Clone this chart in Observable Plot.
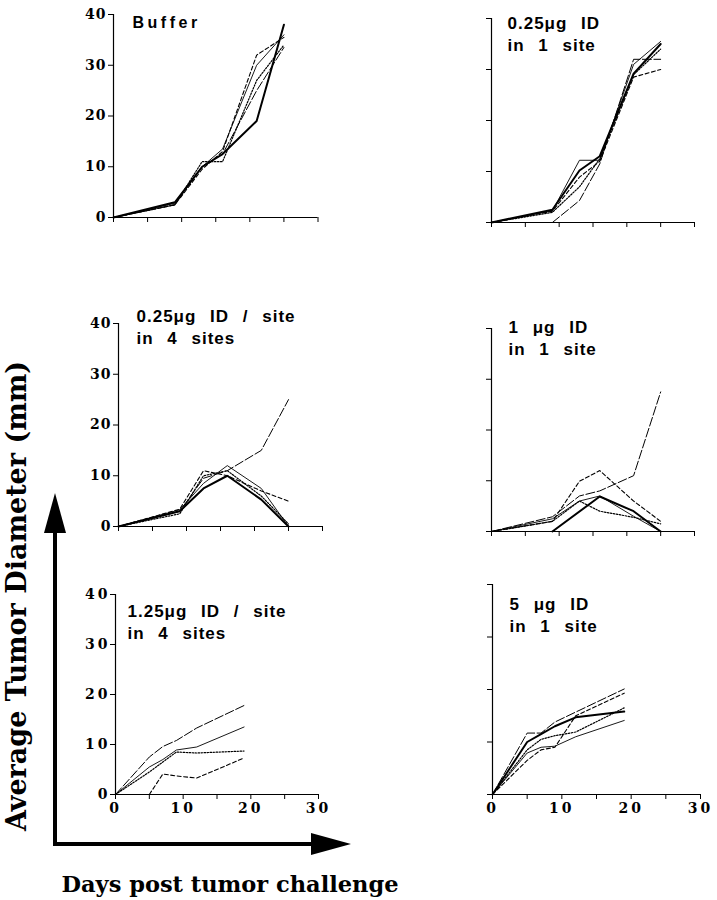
<!DOCTYPE html>
<html><head><meta charset="utf-8">
<script src="https://cdn.jsdelivr.net/npm/d3@7"></script>
<script src="https://cdn.jsdelivr.net/npm/@observablehq/plot@0.6"></script>
<style>
body{margin:0;background:#fff;}
#chart{position:relative;width:717px;height:900px;overflow:hidden;background:#fff;}
#chart svg{position:absolute;}
</style></head><body><div id="chart"></div>
<script>
// ---- data ----
const seriesIds = ["m1", "m2", "m3", "m4", "m5"];
const xTicks = [0, 5, 10, 15, 20, 25, 30];
const yTicks = [0, 10, 20, 30, 40];

const titleBuffer = "Buffer";
const title025x1 = "0.25μg ID\nin 1 site";
const title025x4 = "0.25μg ID / site\nin 4 sites";
const title1x1 = "1 μg ID\nin 1 site";
const title125x4 = "1.25μg ID / site\nin 4 sites";
const title5x1 = "5 μg ID\nin 1 site";

const daysBuffer = [0, 9, 13, 16, 21, 25];
const valuesBuffer = [
  [0, 3, 10, 12.5, 19, 38],
  [0, 2.8, 10, 13.5, 30, 36],
  [0, 2.5, 9.5, 13, 32, 35.5],
  [0, 2.5, 10, 12.5, 25, 33.5],
  [0, 2.5, 11, 11, 27, 34]
];

const days025x1 = [0, 9, 13, 16, 21, 25];
const values025x1 = [
  [0, 2.5, 10.2, 13, 29.2, 35],
  [0, 2.3, 12.2, 12.2, 31, 35.5],
  [0, 2.2, 8.9, 12, 28.5, 30],
  [null, 0, 4.3, 11.5, 32, 32],
  [0, 2, 7, 12.5, 29, 34]
];

const days025x4 = [0, 9, 12.5, 16, 21, 25];
const values025x4 = [
  [0, 3, 7.5, 10, 5.3, 0],
  [0, 3.3, 8.5, 12, 7.5, 0],
  [0, 3.4, 11, 10, 7, 5],
  [0, 3, 9.5, 11, 15, 25],
  [0, 2.5, 10, 11, 6, 0.5]
];

const days1x1 = [0, 9, 13, 16, 21, 25];
const values1x1 = [
  [null, 0, null, 6.9, 4, 0],
  [0, 2.5, 6, 7, 3, 0],
  [0, 2, 9.9, 12, 6, 2],
  [0, 2.9, 7, 8, 11, 27.5],
  [0, 2, 6, 4, 2.8, 1.5]
];

const days125x4 = [0, 5, 7, 9, 12, 19];
const values125x4 = [
  [null, null, null, null, null, null],
  [0, 5.5, 7, 8.9, 9.5, 13.5],
  [null, 0, 4.1, 3.7, 3.3, 7.3],
  [0, 7.5, 9.6, 10.8, 13.3, 17.8],
  [0, 4.5, 6.5, 8.5, 8.3, 8.7]
];

const days5x1 = [0, 5, 7, 9, 12, 19];
const values5x1 = [
  [0, 10, 11.5, 13, 14.7, 15.8],
  [0, 7.9, 9, 9.2, 11, 14.1],
  [0, 6.5, 8.5, 9, 15, 19.3],
  [0, 11.7, 11.7, 13.8, 15.7, 20.1],
  [0, 8.5, 10.5, 11.2, 11.9, 16.5]
];

const yAxisTitle = "Average Tumor Diameter (mm)";
const xAxisTitle = "Days post tumor challenge";

// ---- styles ----
const lineStyle = {
  m1: {strokeWidth: 2},
  m2: {strokeWidth: 0.9},
  m3: {strokeWidth: 1.1, strokeDasharray: "4,2.5"},
  m4: {strokeWidth: 1, strokeDasharray: "9,2.5"},
  m5: {strokeWidth: 1.2, strokeDasharray: "1.5,1.5"}
};

const chart = document.getElementById("chart");

function panel(cfg) {
  const rows = [];
  cfg.values.forEach((vals, i) => vals.forEach((v, j) => {
    if (v != null) rows.push({id: seriesIds[i], day: cfg.days[j], v});
  }));
  const mL = 50, mR = 15, mT = 25, mB = 30;
  const width = (cfg.x1 - cfg.x0) + mL + mR;
  const height = (cfg.y0 - cfg.y40) + mT + mB;
  const marks = [
    Plot.ruleX([0], {y1: 0, y2: 40, stroke: "#000", strokeWidth: 1.2}),
    Plot.ruleY([0], {x1: 0, x2: 30, stroke: "#000", strokeWidth: 1.2}),
    Plot.axisY({ticks: yTicks, tickSize: 5, tickPadding: cfg.yPad ?? 2, label: null,
      tickFormat: cfg.left ? (d => String(d)) : (() => "")}),
    Plot.axisX({ticks: xTicks, tickSize: 5, tickPadding: 4, label: null,
      tickFormat: cfg.bottom ? (d => d % 10 === 0 ? String(d) : "") : (() => "")}),
    ...seriesIds.map(id => Plot.line(rows, {
      filter: d => d.id === id, x: "day", y: "v",
      stroke: "#000", strokeLinejoin: "miter", ...lineStyle[id]
    })),
    Plot.text([cfg.title], {
      text: d => d, frameAnchor: "top-left", textAnchor: "start", lineAnchor: "top",
      dx: cfg.tdx, dy: cfg.tdy, lineHeight: 1.3,
      fontFamily: "Liberation Sans, Arial, sans-serif", fontWeight: "bold",
      fontSize: cfg.tsize ?? 17, fill: "#000"
    })
  ];
  const svg = Plot.plot({
    width, height, marginLeft: mL, marginRight: mR, marginTop: mT, marginBottom: mB,
    x: {domain: [0, 30], label: null}, y: {domain: [0, 40], label: null},
    style: {background: "transparent", overflow: "visible", fontFamily: "DejaVu Serif, serif",
      fontWeight: "bold", fontSize: "14px", color: "#000"},
    marks
  });
  svg.style.left = (cfg.x0 - mL) + "px";
  svg.style.top = (cfg.y40 - mT) + "px";
  const s = d3.select(svg);
  s.selectAll('g[aria-label="y-axis tick label"] text').style("letter-spacing", (cfg.ySpacing ?? 1) + "px");
  s.selectAll('g[aria-label="x-axis tick label"] text').style("letter-spacing", "3px");
  s.selectAll('g[aria-label="text"] text')
    .style("letter-spacing", (cfg.tls ?? 1) + "px")
    .style("word-spacing", (cfg.tws ?? 8) + "px");
  chart.appendChild(svg);
}

panel({days: daysBuffer, values: valuesBuffer, title: titleBuffer, x0: 112.5, x1: 317, y40: 14, y0: 217,
  left: true, bottom: false, tdx: 19, tdy: -1, tsize: 16, tls: 3.5});
panel({days: days025x1, values: values025x1, title: title025x1, x0: 491, x1: 694, y40: 18, y0: 222,
  left: false, bottom: false, tdx: 16, tdy: -5});
panel({days: days025x4, values: values025x4, title: title025x4, x0: 118, x1: 322, y40: 323, y0: 526,
  left: true, bottom: false, tdx: 18, tdy: -17});
panel({days: days1x1, values: values1x1, title: title1x1, x0: 491, x1: 694, y40: 328, y0: 531,
  left: false, bottom: false, tdx: 17, tdy: -11});
panel({days: days125x4, values: values125x4, title: title125x4, x0: 115, x1: 318, y40: 594, y0: 794,
  left: true, bottom: true, tdx: 12, tdy: 7, ySpacing: 3, yPad: 0});
panel({days: days5x1, values: values5x1, title: title5x1, x0: 492, x1: 700, y40: 584, y0: 794,
  left: false, bottom: true, tdx: 17, tdy: 10});

// ---- overlay: arrows and axis titles ----
const ov = d3.select(chart).append("svg")
  .attr("width", 717).attr("height", 900).style("left", "0px").style("top", "0px")
  .style("pointer-events", "none");
ov.append("path").attr("d", "M55,532 V844 H312").attr("fill", "none")
  .attr("stroke", "#000").attr("stroke-width", 4).attr("stroke-linejoin", "miter");
ov.append("polygon").attr("points", "44,533 66,533 55,493").attr("fill", "#000");
ov.append("polygon").attr("points", "311,833 311,855 351,844").attr("fill", "#000");
ov.append("text").attr("transform", "translate(26,596) rotate(-90)")
  .attr("text-anchor", "middle").attr("font-family", "DejaVu Serif, serif")
  .attr("font-weight", "bold").attr("font-size", 27).text(yAxisTitle);
ov.append("text").attr("x", 230).attr("y", 892)
  .attr("text-anchor", "middle").attr("font-family", "DejaVu Serif, serif")
  .attr("font-weight", "bold").attr("font-size", 22.5).text(xAxisTitle);
</script>
</body></html>
